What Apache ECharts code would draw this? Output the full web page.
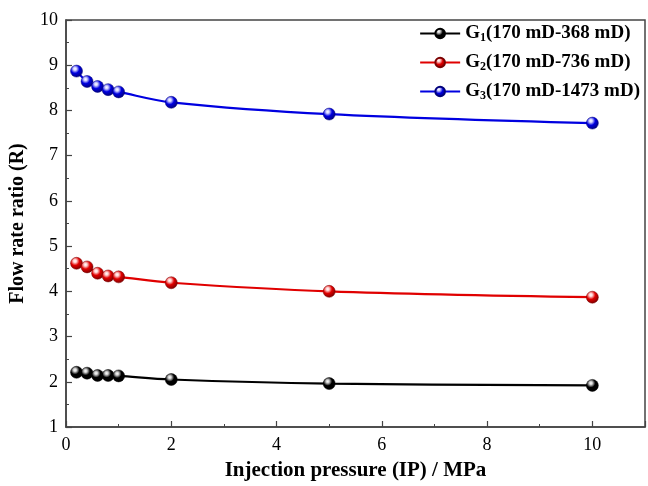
<!DOCTYPE html>
<html><head><meta charset="utf-8">
<script src="https://cdn.jsdelivr.net/npm/echarts@6/dist/echarts.min.js"></script>
<style>html,body{margin:0;padding:0;background:#fff}#c{width:648px;height:486px}</style>
</head><body><div id="c"></div>
<script>
const pressure = [0.2, 0.4, 0.6, 0.8, 1, 2, 5, 10];
const g1 = [2.21, 2.19, 2.14, 2.14, 2.13, 2.05, 1.96, 1.92];
const g2 = [4.62, 4.54, 4.40, 4.34, 4.32, 4.19, 4.00, 3.87];
const g3 = [8.87, 8.64, 8.53, 8.46, 8.41, 8.18, 7.92, 7.72];
const seriesNames = ['G1', 'G2', 'G3'];
const legendSub = ['1', '2', '3'];
const legendRange = ['(170 mD-368 mD)', '(170 mD-736 mD)', '(170 mD-1473 mD)'];
const colors = ['#000000', '#e00000', '#0000e0'];
const darkColors = ['#000000', '#7a0000', '#00007a'];
const lightColors = ['#cfcfcf', '#ffd0d0', '#d0d0ff'];
const xTicks = [0, 2, 4, 6, 8, 10];
const yTicks = [1, 2, 3, 4, 5, 6, 7, 8, 9, 10];
const allData = [g1, g2, g3];

const font = '"Liberation Serif", "Times New Roman", serif';
function ball(i) {
  return new echarts.graphic.RadialGradient(0.38, 0.32, 0.7, [
    {offset: 0, color: '#ffffff'},
    {offset: 0.18, color: lightColors[i]},
    {offset: 0.5, color: colors[i]},
    {offset: 1, color: darkColors[i]}
  ]);
}
const chart = echarts.init(document.getElementById('c'));
chart.setOption({
  animation: false,
  backgroundColor: '#fff',
  grid: {left: 59, right: 1, top: 20, bottom: 53, show: true, borderColor: '#444', borderWidth: 1.5, backgroundColor: 'transparent'},
  legend: {
    right: 8, top: 24, orient: 'vertical', itemGap: 9,
    itemWidth: 40, itemHeight: 12,
    padding: 0,
    data: seriesNames,
    formatter: function (name) {
      const i = seriesNames.indexOf(name);
      return '{b|G}{s|' + legendSub[i] + '}{b|' + legendRange[i] + '}';
    },
    textStyle: {
      fontFamily: font, fontSize: 19, fontWeight: 'bold', color: '#000',
      rich: {
        b: {fontFamily: font, fontSize: 19, fontWeight: 'bold', color: '#000'},
        s: {fontFamily: font, fontSize: 12, fontWeight: 'bold', color: '#000', verticalAlign: 'bottom', padding: [9, 0, 0, 0]}
      }
    }
  },
  xAxis: {
    type: 'value', min: 0, max: 11, interval: 2,
    name: 'Injection pressure (IP) / MPa', nameLocation: 'middle', nameGap: 33,
    nameTextStyle: {fontFamily: font, fontSize: 21, fontWeight: 'bold', color: '#000'},
    axisLine: {lineStyle: {color: '#444', width: 1.5}},
    axisTick: {inside: true, length: 6, lineStyle: {color: '#444', width: 1.2}},
    minorTick: {show: true, splitNumber: 2, length: 3, lineStyle: {color: '#444'}},
    splitLine: {show: false},
    axisLabel: {fontFamily: font, fontSize: 18, color: '#000', margin: 9,
      formatter: function (v) { return xTicks.indexOf(v) >= 0 ? String(v) : ''; }}
  },
  yAxis: {
    type: 'value', min: 1, max: 10, interval: 1,
    name: 'Flow rate ratio (R)', nameLocation: 'middle', nameGap: 38, nameRotate: 90,
    nameTextStyle: {fontFamily: font, fontSize: 20, fontWeight: 'bold', color: '#000'},
    axisLine: {lineStyle: {color: '#444', width: 1.5}},
    axisTick: {inside: true, length: 6, lineStyle: {color: '#444', width: 1.2}},
    minorTick: {show: true, splitNumber: 2, length: 3, lineStyle: {color: '#444'}},
    splitLine: {show: false},
    axisLabel: {fontFamily: font, fontSize: 18, color: '#000', margin: 8,
      formatter: function (v) { return yTicks.indexOf(v) >= 0 ? String(v) : ''; }}
  },
  series: allData.map(function (d, i) {
    return {
      name: seriesNames[i], type: 'line', smooth: 0.35,
      data: pressure.map(function (x, k) { return [x, d[k]]; }),
      symbol: 'circle', symbolSize: 12,
      lineStyle: {color: colors[i], width: 2.2},
      itemStyle: {color: ball(i), borderColor: darkColors[i], borderWidth: 0.5},
      z: 3
    };
  })
});
</script></body></html>
